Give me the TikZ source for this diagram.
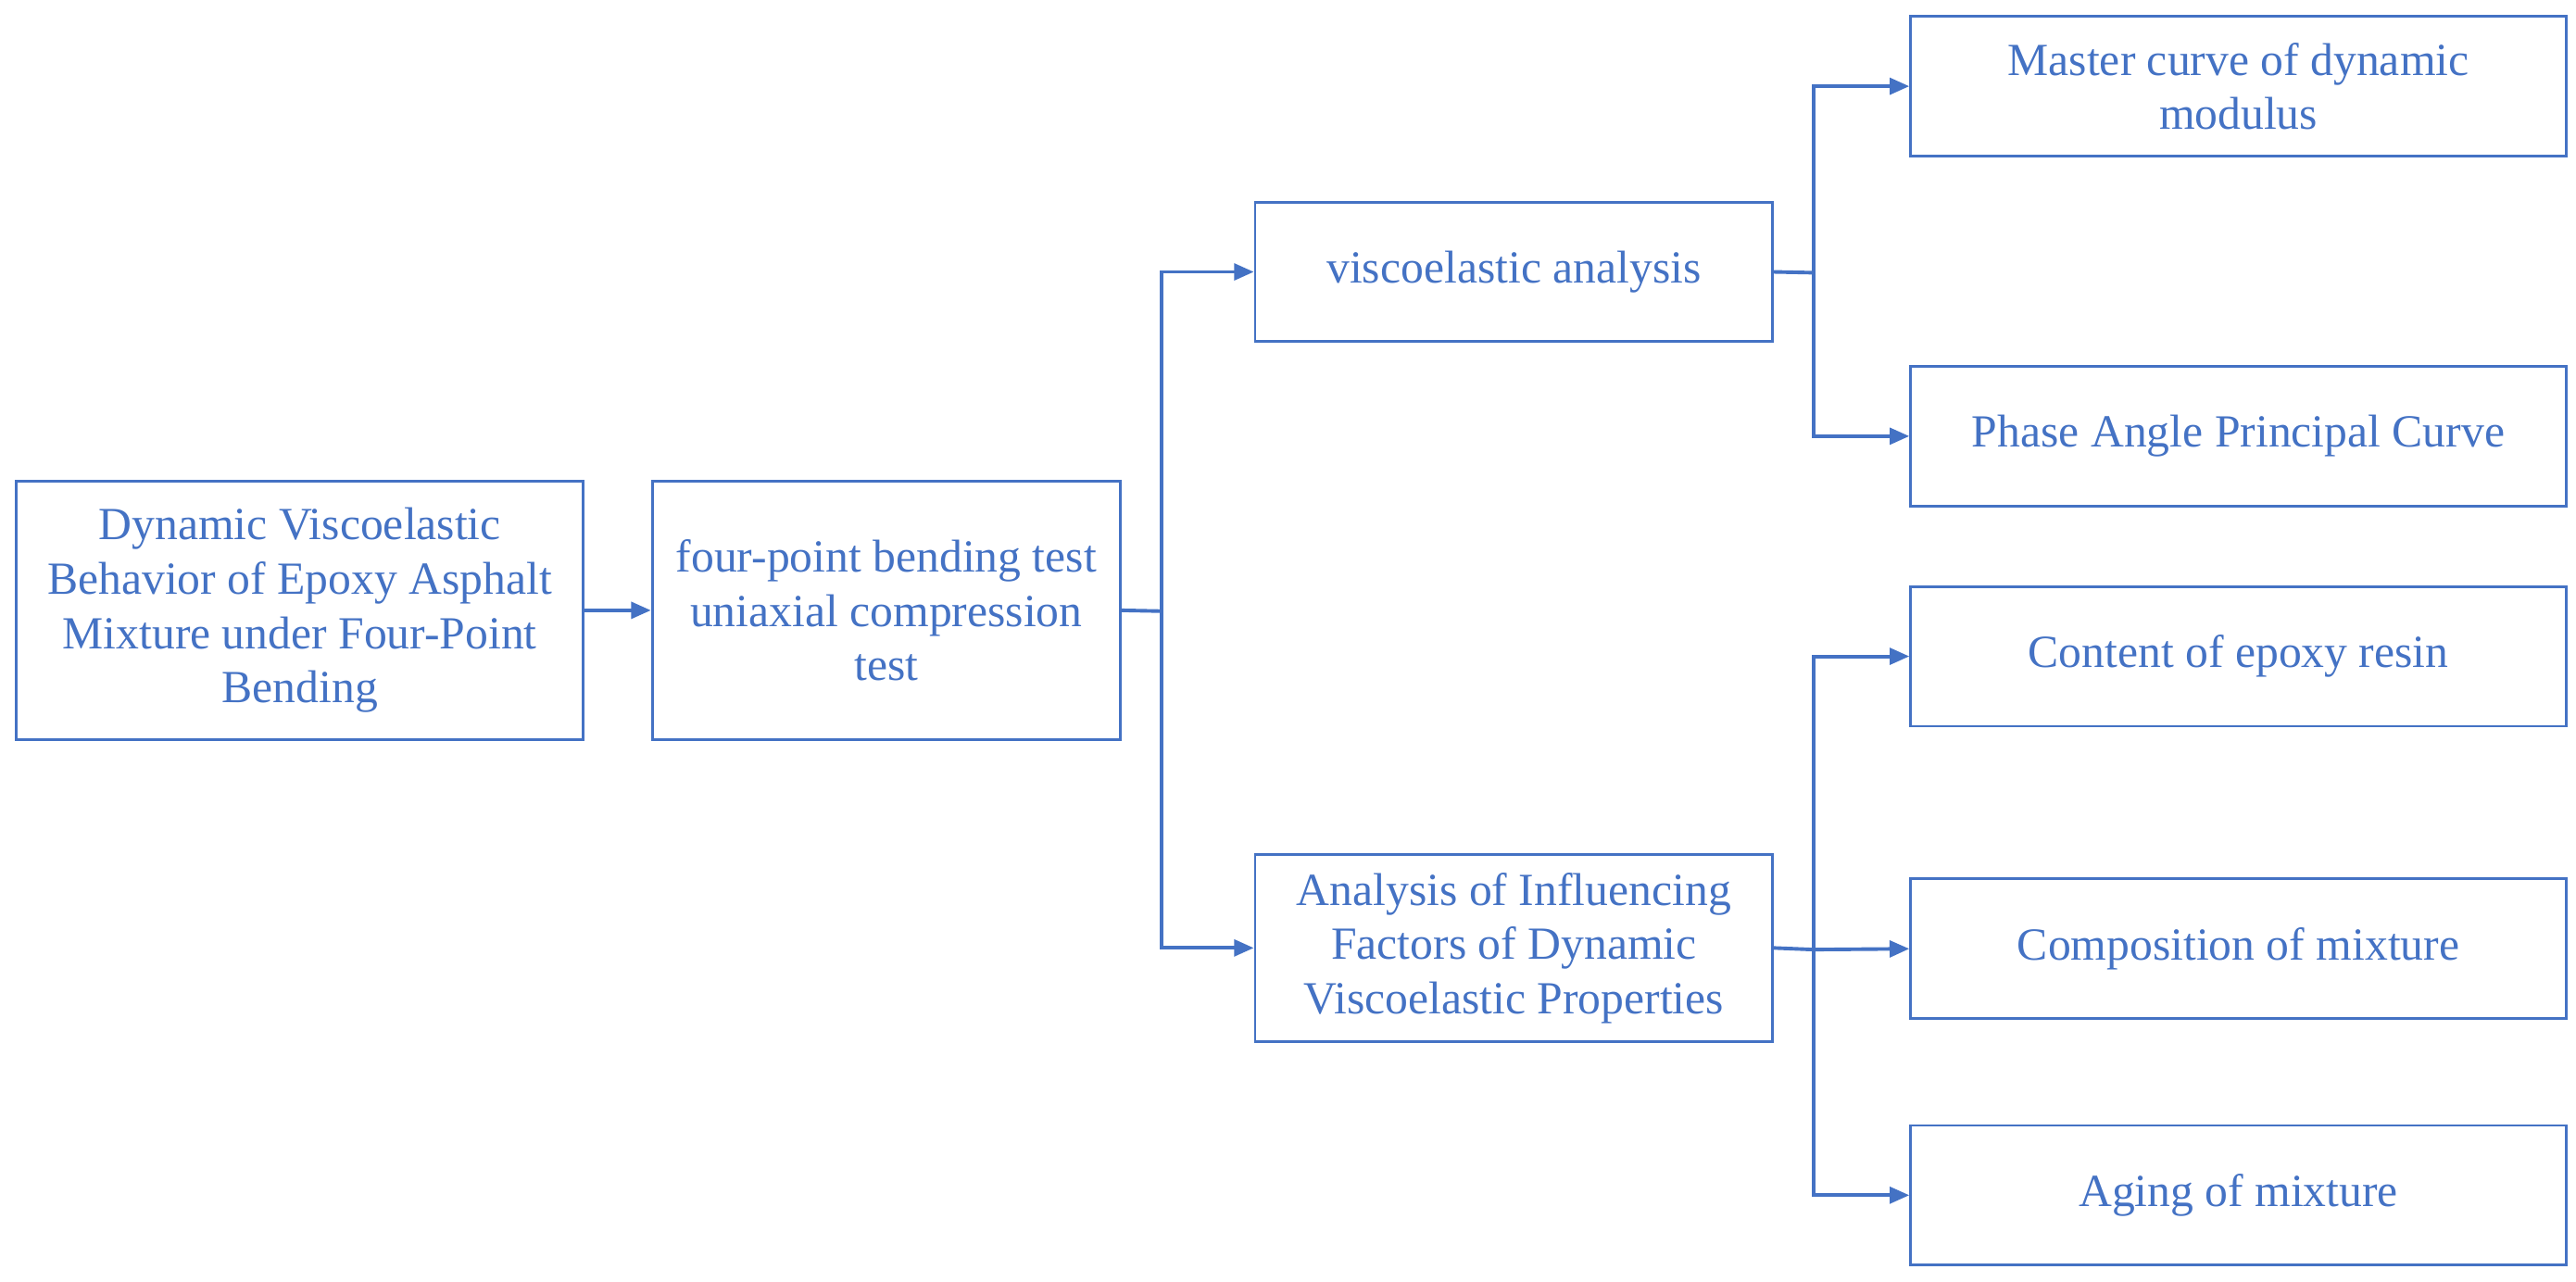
\documentclass[tikz,border=0pt]{standalone}
\usepackage{fontspec}
\setmainfont{Liberation Serif}
\usetikzlibrary{arrows.meta}
\definecolor{bl}{RGB}{68,114,196}
\begin{document}
\begin{tikzpicture}[x=0.5pt,y=-0.5pt,
 box/.style={draw=bl,line width=0.8pt,text=bl,align=center,inner sep=0pt,font=\fontsize{14}{16.5}\selectfont},
 ar/.style={draw=bl,line width=1.1pt,-{Triangle[length=6pt,width=5pt]}},
 ln/.style={draw=bl,line width=1.1pt}]
\useasboundingbox (0,0) rectangle (1568,780);
\newcommand\bx[6]{\node[box,minimum width={(#4-#2)*0.5pt},minimum height={(#5-#3)*0.5pt}] (#1) at ({(#2+#4)/2},{(#3+#5)/2}) {#6};}
\bx{a}{10}{293}{355}{450}{Dynamic Viscoelastic\\Behavior of Epoxy Asphalt\\Mixture under Four-Point\\Bending}
\bx{b}{397}{293}{682}{450}{four-point bending test\\uniaxial compression\\test}
\bx{c}{764}{123}{1079}{208}{viscoelastic analysis}
\bx{d}{764}{520}{1079}{634}{Analysis of Influencing\\Factors of Dynamic\\Viscoelastic Properties}
\bx{e}{1163}{10}{1562}{95}{Master curve of dynamic\\modulus}
\bx{f}{1163}{223}{1562}{308}{Phase Angle Principal Curve}
\bx{g}{1163}{357}{1562}{442}{Content of epoxy resin}
\bx{h}{1163}{535}{1562}{620}{Composition of mixture}
\bx{i}{1163}{685}{1562}{770}{Aging of mixture}
\coordinate (j1) at (707,372);
\coordinate (j2) at (1104,166);
\coordinate (j3) at (1104,578);
\draw[ar] (a) -- (b);
\draw[ln] (b.east) -- (j1);
\draw[ar] (j1) |- (c.west);
\draw[ar] (j1) |- (d.west);
\draw[ln] (c.east) -- (j2);
\draw[ar] (j2) |- (e.west);
\draw[ar] (j2) |- (f.west);
\draw[ln] (d.east) -- (j3);
\draw[ar] (j3) |- (g.west);
\draw[ar] (j3) -- (h.west);
\draw[ar] (j3) |- (i.west);
\end{tikzpicture}
\end{document}
